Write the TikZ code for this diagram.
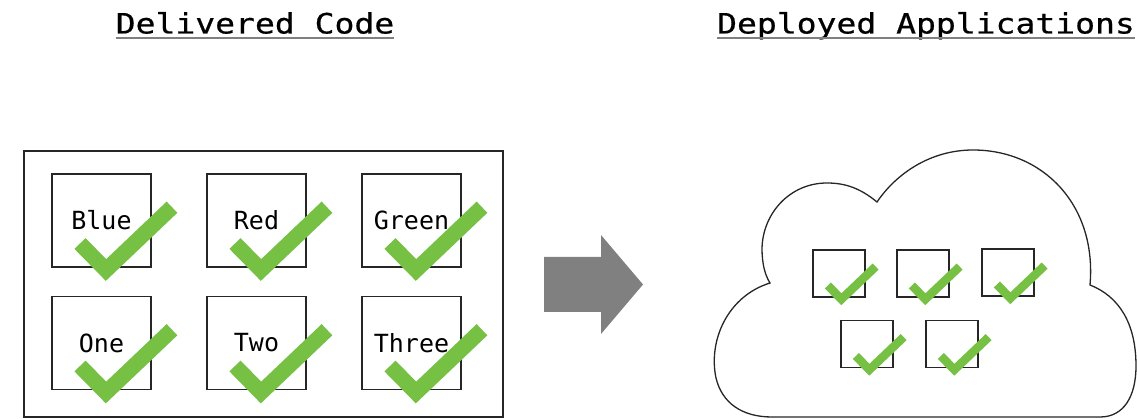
\documentclass[tikz,border=0pt]{standalone}
\usepackage{fontspec}
\setmonofont{DejaVu Sans Mono}
\newfontfamily\titlefont[FakeStretch=1.18,FakeBold=0.6]{DejaVu Sans Mono}
\definecolor{tickgreen}{RGB}{118,192,67}
\definecolor{arrowgray}{RGB}{128,128,128}
\tikzset{
  title/.style={inner sep=0pt, anchor=base, font=\titlefont\fontsize{28}{30}\selectfont},
  bigbox/.style={draw=black!85, line width=1.3pt, minimum width=99pt, minimum height=93pt,
    inner sep=0pt, font=\ttfamily\fontsize{25}{27}\selectfont},
  smallbox/.style={draw=black!85, line width=1.3pt, minimum width=52pt, minimum height=47pt, inner sep=0pt},
  tickline/.style={draw=tickgreen, line cap=butt, line join=miter}
}
% check mark over a box: #1 node name, #2 scale, #3 stroke width
\newcommand{\checkon}[3]{%
  \draw[tickline, line width=#3]
    ([shift={(-21.5*#2,23*#2)}]#1.center) --
    ([shift={(4.5*#2,49.5*#2)}]#1.center) --
    ([shift={(70.5*#2,-13.3*#2)}]#1.center);}
\begin{document}
\begin{tikzpicture}[x=1pt,y=-1pt]
  \useasboundingbox (0,0) rectangle (1137,419);

  % titles
  \node[title] (tcode) at (255,33.5) {Delivered Code};
  \node[title] (tapps) at (926,33.5) {Deployed Applications};
  \draw[arrowgray, line width=2pt] ([yshift=-4.5pt]tcode.base west) -- ([yshift=-4.5pt]tcode.base east);
  \draw[arrowgray, line width=2pt] ([yshift=-4.5pt]tapps.base west) -- ([yshift=-4.5pt]tapps.base east);

  % delivered code
  \node[draw=black!85, line width=1.3pt, minimum width=479pt, minimum height=266pt] (code) at (263.5,284) {};
  \node[bigbox] (blue)  at (101.5,220.5) {Blue};
  \node[bigbox] (red)   at (256.5,220.5) {Red};
  \node[bigbox] (green) at (411.5,220.5) {Green};
  \node[bigbox] (one)   at (101.5,343) {One};
  \node[bigbox] (two)   at (256.5,343) {Two};
  \node[bigbox] (three) at (411.5,343) {Three};
  \foreach \b in {blue,red,green,one,two,three}{
    \checkon{\b}{1}{15.5pt}
  }

  % arrow
  \fill[arrowgray] (544,257) -- (601,257) -- (601,235) -- (643,284.5)
    -- (601,334) -- (601,312) -- (544,312) -- cycle;

  % cloud
  \draw[black!85, line width=1.3pt] (770,283)
    .. controls (728,296) and (708,340) .. (716,378)
    .. controls (722,403) and (742,417) .. (772,417)
    -- (1100,417)
    .. controls (1124,417) and (1136,396) .. (1136,366)
    .. controls (1136,322) and (1118,296) .. (1090,285)
    .. controls (1097,205) and (1043,150) .. (973,150)
    .. controls (930,150) and (896,174) .. (877,202)
    .. controls (860,188) and (845,183) .. (827,183)
    .. controls (790,183) and (763,213) .. (762,248)
    .. controls (762,264) and (765,275) .. (770,283) -- cycle;

  \node[smallbox] (app1) at (839,273.5) {};
  \node[smallbox] (app2) at (923,273.5) {};
  \node[smallbox] (app3) at (1008,272.5) {};
  \node[smallbox] (app4) at (867,344) {};
  \node[smallbox] (app5) at (952,344) {};
  \foreach \b in {app1,app2,app3,app4,app5}{
    \checkon{\b}{0.52}{8.5pt}
  }
\end{tikzpicture}
\end{document}
